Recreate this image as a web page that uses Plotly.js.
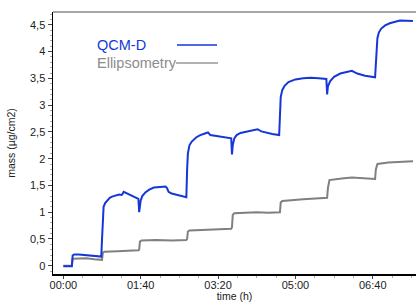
<!DOCTYPE html>
<html>
<head>
<meta charset="utf-8">
<script src="https://cdn.plot.ly/plotly-3.0.1.min.js"></script>
<style>
html,body{margin:0;padding:0;background:#fff;}
#chart{width:416px;height:302px;}
</style>
</head>
<body>
<div id="chart"></div>
<script>
// time in minutes from start
const qcmTime = [0, 11, 12, 14, 20, 30, 40, 49, 50, 51, 52, 54, 57, 60, 63, 67, 72, 75, 76, 78, 82, 90, 97, 98, 99, 100, 102, 106, 111, 117, 125, 132, 134, 136, 140, 150, 159, 160, 161, 163, 166, 172, 177, 183, 187, 190, 200, 210, 217, 218, 219, 221, 224, 229, 240, 251, 256, 263, 270, 279, 280, 281, 283, 286, 291, 300, 310, 320, 330, 340, 341, 342, 345, 350, 358, 366, 373, 380, 390, 403, 404, 405, 406, 408, 411, 416, 422, 435, 448, 452];
const qcmMass = [-0.01, -0.01, 0.19, 0.21, 0.21, 0.20, 0.19, 0.17, 0.5, 1.0, 1.1, 1.17, 1.23, 1.27, 1.29, 1.31, 1.33, 1.32, 1.33, 1.38, 1.35, 1.30, 1.25, 1.0, 1.15, 1.22, 1.30, 1.37, 1.42, 1.46, 1.47, 1.48, 1.45, 1.38, 1.35, 1.31, 1.28, 1.8, 2.1, 2.25, 2.32, 2.40, 2.44, 2.47, 2.49, 2.44, 2.42, 2.40, 2.38, 2.08, 2.25, 2.38, 2.44, 2.48, 2.52, 2.55, 2.51, 2.48, 2.46, 2.44, 2.8, 3.15, 3.28, 3.36, 3.43, 3.48, 3.50, 3.51, 3.50, 3.49, 3.20, 3.35, 3.45, 3.53, 3.59, 3.62, 3.64, 3.59, 3.55, 3.52, 3.8, 4.1, 4.25, 4.36, 4.43, 4.49, 4.53, 4.58, 4.58, 4.57];

const ellTime = [0, 11, 12, 20, 30, 40, 49, 50, 51, 53, 70, 90, 97, 98, 99, 101, 120, 140, 159, 160, 161, 163, 190, 217, 218, 219, 221, 250, 265, 280, 281, 283, 310, 341, 342, 344, 360, 373, 403, 404, 406, 420, 452];
const ellMass = [0.0, 0.0, 0.13, 0.14, 0.14, 0.12, 0.10, 0.11, 0.24, 0.26, 0.27, 0.28, 0.29, 0.30, 0.45, 0.47, 0.48, 0.47, 0.48, 0.50, 0.64, 0.66, 0.68, 0.69, 0.72, 0.95, 0.98, 1.00, 0.99, 1.00, 1.18, 1.21, 1.24, 1.27, 1.45, 1.60, 1.63, 1.65, 1.62, 1.80, 1.90, 1.93, 1.95];

const seriesNames = ["QCM-D", "Ellipsometry"];
const xTitle = "time (h)";
const yTitle = "mass (µg/cm2)";

const base = Date.UTC(2000, 0, 1);
const toMs = m => base + m * 60000;

const blue = "#1636d8";
const grey = "#808080";

const traces = [
  {x: ellTime.map(toMs), y: ellMass, type: "scatter", mode: "lines", name: seriesNames[1],
   line: {color: grey, width: 2}},
  {x: qcmTime.map(toMs), y: qcmMass, type: "scatter", mode: "lines", name: seriesNames[0],
   line: {color: blue, width: 2}}
];

const layout = {
  width: 416, height: 302,
  margin: {l: 53, r: 0, t: 12, b: 28},
  showlegend: false,
  separators: ",.",
  paper_bgcolor: "#fff", plot_bgcolor: "#fff",
  font: {family: "Liberation Sans, Arial, sans-serif", color: "#222", size: 11},
  xaxis: {
    type: "date",
    range: [toMs(-13.4), toMs(455.9)],
    tick0: base, dtick: 6000000, tickformat: "%H:%M",
    ticks: "outside", ticklen: 3, tickcolor: "#444", tickwidth: 1,
    ticklabelstandoff: -3,
    minor: {dtick: 1500000, ticks: "outside", ticklen: 2, tickcolor: "#aaa", showgrid: false},
    showgrid: false, zeroline: false,
    showline: true, linecolor: "#000", linewidth: 1.5,
    tickfont: {size: 11, color: "#222"},
    title: {text: xTitle, font: {size: 10.5, color: "#222"}, standoff: 0}
  },
  yaxis: {
    range: [-0.155, 4.74],
    tick0: 0, dtick: 0.5,
    ticks: "outside", ticklen: 4, tickcolor: "#444", tickwidth: 1,
    minor: {dtick: 0.1, ticks: "outside", ticklen: 2, tickcolor: "#aaa", showgrid: false},
    showgrid: false, zeroline: false,
    showline: true, linecolor: "#000", linewidth: 1.5,
    tickfont: {size: 11, color: "#222"},
    title: {text: yTitle, font: {size: 10.5, color: "#222"}, standoff: 12}
  },
  shapes: [
    {type: "line", xref: "paper", yref: "paper", x0: 0, x1: 1, y0: 1, y1: 1,
     line: {color: "#888", width: 1.5}},
    {type: "line", xref: "paper", yref: "paper", x0: (177 - 53) / 363, x1: (217 - 53) / 363,
     y0: (302 - 28 - 45) / 262, y1: (302 - 28 - 45) / 262, line: {color: blue, width: 1.5}},
    {type: "line", xref: "paper", yref: "paper", x0: (176 - 53) / 363, x1: (218 - 53) / 363,
     y0: (302 - 28 - 63) / 262, y1: (302 - 28 - 63) / 262, line: {color: "#666", width: 1.2}}
  ],
  annotations: [
    {xref: "paper", yref: "paper", x: (95 - 53) / 363, y: (302 - 28 - 45) / 262,
     xanchor: "left", yanchor: "middle", showarrow: false, text: seriesNames[0],
     font: {size: 14.5, color: blue}},
    {xref: "paper", yref: "paper", x: (95 - 53) / 363, y: (302 - 28 - 63) / 262,
     xanchor: "left", yanchor: "middle", showarrow: false, text: seriesNames[1],
     font: {size: 14.5, color: "#8c8c8c"}}
  ]
};

Plotly.newPlot("chart", traces, layout, {displayModeBar: false, staticPlot: true});
</script>
</body>
</html>
